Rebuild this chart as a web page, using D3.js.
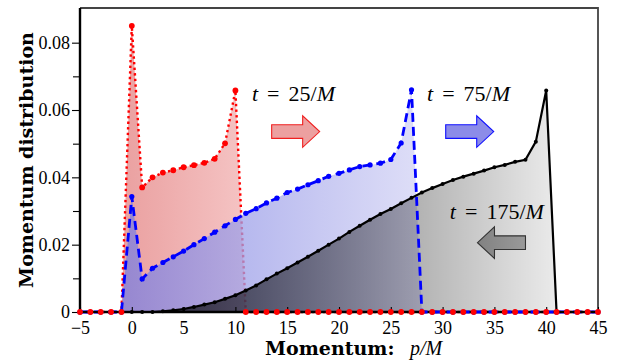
<!DOCTYPE html>
<html>
<head>
<meta charset="utf-8">
<script src="https://cdn.jsdelivr.net/npm/d3@7"></script>
<style>
  body { margin: 0; background: #fff; }
  svg { display: block; }
</style>
</head>
<body>
<script>
// momentum grid p/M
const momentum = [-5, -4, -3, -2, -1, 0, 1, 2, 3, 4, 5, 6, 7, 8, 9, 10, 11, 12, 13, 14, 15,
  16, 17, 18, 19, 20, 21, 22, 23, 24, 25, 26, 27, 28, 29, 30, 31, 32, 33, 34, 35,
  36, 37, 38, 39, 40, 41, 42, 43, 44, 45];

// t = 25/M
const dist25 = [0, 0, 0, 0, 0,
  0.0850, 0.0370, 0.0400, 0.0414, 0.0421, 0.0430, 0.0436, 0.0443, 0.0455, 0.0501, 0.0658,
  0, 0, 0, 0, 0, 0, 0, 0, 0, 0, 0, 0, 0, 0, 0, 0, 0, 0, 0, 0, 0, 0, 0, 0, 0,
  0, 0, 0, 0, 0, 0, 0, 0, 0, 0];

// t = 75/M
const dist75 = [0, 0, 0, 0, 0,
  0.0343, 0.0098, 0.0130, 0.0147, 0.0164, 0.0181, 0.0200, 0.0218, 0.0237, 0.0256, 0.0275,
  0.0293, 0.0307, 0.0324, 0.0338, 0.0355, 0.0365, 0.0378, 0.0390, 0.0403, 0.0412, 0.0422,
  0.0432, 0.0437, 0.0442, 0.0453, 0.0502, 0.0660,
  0, 0, 0, 0, 0, 0, 0, 0, 0, 0, 0, 0, 0, 0, 0, 0, 0, 0];

// t = 175/M
const dist175 = [0, 0, 0, 0, 0, 0, 0, 0,
  0.0002, 0.0005, 0.0009, 0.0015, 0.0022, 0.0029, 0.0039, 0.0050, 0.0064, 0.0079,
  0.0097, 0.0114, 0.0130, 0.0147, 0.0164, 0.0182, 0.0200, 0.0218, 0.0238, 0.0256,
  0.0274, 0.0291, 0.0306, 0.0323, 0.0339, 0.0355, 0.0368, 0.0380, 0.0392, 0.0402,
  0.0411, 0.0420, 0.0430, 0.0437, 0.0446, 0.0452, 0.0506, 0.0658,
  0, 0, 0, 0, 0];

const xTicks = [-5, 0, 5, 10, 15, 20, 25, 30, 35, 40, 45];
const yTicks = [0, 0.02, 0.04, 0.06, 0.08];
const yMinorTicks = [0.01, 0.03, 0.05, 0.07];

// annotation labels (time, where the label starts)
const times = [25, 75, 175];
const labelP = [11.6, 28.5, 30.7];
const labelV = [0.0626, 0.0626, 0.0276];

const width = 620, height = 360;
const margin = {top: 8, right: 22, bottom: 48, left: 80};

const x = d3.scaleLinear().domain([-5, 45]).range([margin.left, width - margin.right]);
const y = d3.scaleLinear().domain([0, 0.0903]).range([height - margin.bottom, margin.top]);

const svg = d3.select("body").append("svg")
  .attr("width", width)
  .attr("height", height);

const defs = svg.append("defs");
const addGrad = (id, p0, p1, stops) => {
  let g = defs.append("linearGradient")
    .attr("id", id)
    .attr("gradientUnits", "userSpaceOnUse")
    .attr("x1", x(p0)).attr("x2", x(p1))
    .attr("y1", 0).attr("y2", 0);
  stops.forEach(s => {
    g.append("stop").attr("offset", s[0]).attr("stop-color", s[1]).attr("stop-opacity", s[2]);
  });
};
addGrad("gRed", -1, 11, [[0, "rgb(234,160,160)", 1], [1, "rgb(245,196,196)", 1]]);
addGrad("gBlue", -1, 28, [[0, "rgb(122,126,224)", 0.75], [1, "rgb(212,212,245)", 0.75]]);
addGrad("gBlack", 3, 41, [[0, "#000", 0.7], [1, "#000", 0.08]]);
addGrad("gArrow", 32, 38, [[0, "#7a7a7a", 1], [1, "#9a9a9a", 1]]);

const pts = (vals) => momentum.map((p, i) => [p, vals[i]]);

const area = d3.area()
  .x(d => x(d[0]))
  .y0(y(0))
  .y1(d => y(d[1]));
const line = d3.line()
  .x(d => x(d[0]))
  .y(d => y(d[1]));

// red layer
svg.append("path").attr("d", area(pts(dist25))).attr("fill", "url(#gRed)");
svg.append("path").attr("d", line(pts(dist25)))
  .attr("fill", "none").attr("stroke", "#ff0000")
  .attr("stroke-width", 2.4).attr("stroke-dasharray", "2.4,3.2");

// blue + black fills
svg.append("path").attr("d", area(pts(dist75))).attr("fill", "url(#gBlue)");
svg.append("path").attr("d", area(pts(dist175))).attr("fill", "url(#gBlack)");

// frame
svg.append("path")
  .attr("d", `M${x(-5)},${y.range()[1]}H${x(45)}V${y(0)}`)
  .attr("fill", "none").attr("stroke", "#444").attr("stroke-width", 1.8);
svg.append("path")
  .attr("d", `M${x(-5)},${y.range()[1]}V${y(0)}H${x(45)}`)
  .attr("fill", "none").attr("stroke", "#000").attr("stroke-width", 2.4);

// axes
svg.append("g")
  .attr("transform", `translate(0,${y(0)})`)
  .call(d3.axisBottom(x).tickValues(xTicks).tickSize(-5).tickPadding(9).tickFormat(d3.format("d")))
  .call(g => g.select(".domain").remove())
  .call(g => g.selectAll("line").attr("stroke", "#000").attr("stroke-width", 1.1))
  .call(g => g.selectAll("text").attr("font-family", "Liberation Serif").attr("font-size", 18).attr("fill", "#000"));

svg.append("g")
  .attr("transform", `translate(${x(-5)},0)`)
  .call(d3.axisLeft(y).tickValues(yTicks).tickSize(8).tickPadding(2)
    .tickFormat(d => d === 0 ? "0" : d.toFixed(2)))
  .call(g => g.select(".domain").remove())
  .call(g => g.selectAll("line").attr("stroke", "#000").attr("stroke-width", 1.1))
  .call(g => g.selectAll("text").attr("font-family", "Liberation Serif").attr("font-size", 18).attr("fill", "#000"));

svg.append("g")
  .attr("transform", `translate(${x(-5)},0)`)
  .call(d3.axisLeft(y).tickValues(yMinorTicks).tickSize(7).tickFormat(""))
  .call(g => g.select(".domain").remove())
  .call(g => g.selectAll("line").attr("stroke", "#000").attr("stroke-width", 1.1));

// blue and black lines
svg.append("path").attr("d", line(pts(dist75)))
  .attr("fill", "none").attr("stroke", "#0000ff")
  .attr("stroke-width", 2.8).attr("stroke-dasharray", "9,5");
svg.append("path").attr("d", line(pts(dist175)))
  .attr("fill", "none").attr("stroke", "#000")
  .attr("stroke-width", 2.2);

const dots = (vals, r, color) => {
  svg.append("g").selectAll("circle")
    .data(pts(vals))
    .join("circle")
    .attr("cx", d => x(d[0]))
    .attr("cy", d => y(d[1]))
    .attr("r", r)
    .attr("fill", color);
};
dots(dist75, 2.6, "#0000ff");
dots(dist175, 2.0, "#000");
dots(dist25, 2.9, "#ff0000");

// arrows (anchored in data coords, sizes in px)
const arrow = (p, v, dir, fill, stroke) => {
  let x0 = x(p), y0 = y(v);
  let shaft = 31, head = 17, sh = 6.8, hh = 15.8;
  let s = dir;
  let d = `M${x0},${y0 - sh}` +
    `H${x0 + s * shaft}V${y0 - hh}L${x0 + s * (shaft + head)},${y0}` +
    `L${x0 + s * shaft},${y0 + hh}V${y0 + sh}H${x0}Z`;
  svg.append("path").attr("d", d)
    .attr("fill", fill).attr("stroke", stroke).attr("stroke-width", 1.1)
    .attr("stroke-linejoin", "miter");
};
arrow(13.5, 0.0536, 1, "rgb(236,160,160)", "#f02020");
arrow(30.3, 0.0536, 1, "rgb(140,140,232)", "#1010ff");
arrow(38.0, 0.0206, -1, "url(#gArrow)", "#333");

// time labels
times.forEach((t, i) => {
  let txt = svg.append("text")
    .attr("x", x(labelP[i]))
    .attr("y", y(labelV[i]))
    .attr("font-family", "Liberation Serif")
    .attr("font-size", 22)
    .attr("fill", "#000");
  txt.append("tspan").attr("font-style", "italic").text("t");
  txt.append("tspan").attr("dx", 9).text("=");
  txt.append("tspan").attr("dx", 9).text(t + "/");
  txt.append("tspan").attr("font-style", "italic").text("M");
});

// axis titles
svg.append("text")
  .attr("transform", "translate(33,160) rotate(-90)")
  .attr("text-anchor", "middle")
  .attr("font-family", "DejaVu Serif")
  .attr("font-weight", "bold")
  .attr("font-size", 19)
  .text("Momentum distribution");

svg.append("text")
  .attr("x", 265).attr("y", 355)
  .attr("font-family", "DejaVu Serif")
  .attr("font-weight", "bold")
  .attr("font-size", 19)
  .text("Momentum:");
svg.append("text")
  .attr("x", 410).attr("y", 355)
  .attr("font-family", "Liberation Serif")
  .attr("font-style", "italic")
  .attr("font-size", 20)
  .text("p/M");
</script>
</body>
</html>
